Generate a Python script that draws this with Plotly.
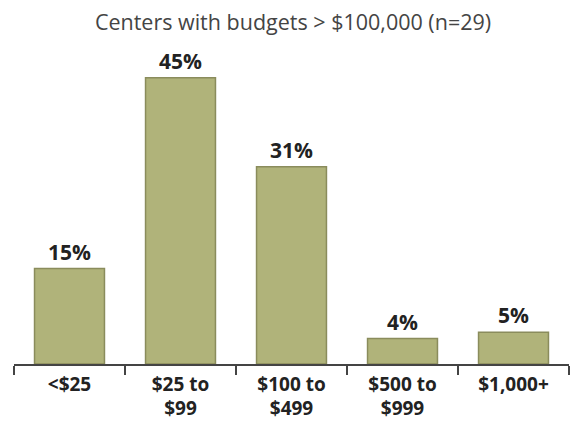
import plotly.graph_objects as go

categories = ["<$25", "$25 to<br>$99", "$100 to<br>$499", "$500 to<br>$999", "$1,000+"]
values = [15, 45, 31, 4, 5]
labels = [f"{v}%" for v in values]

BAR_COLOR = "#b0b37a"
EDGE_COLOR = "#8a8c5c"
FONT = "Open Sans"

# the page body keeps its default 8px margin, so the figure is 8px smaller
fig = go.Figure()
fig.add_trace(go.Bar(
    x=categories,
    y=values,
    text=labels,
    textposition="outside",
    cliponaxis=False,
    textfont=dict(size=21, color="#222222", family=FONT, weight="bold"),
    marker=dict(color=BAR_COLOR, line=dict(color=EDGE_COLOR, width=1.5)),
    width=0.63,
))

fig.update_layout(
    width=570,
    height=415,
    paper_bgcolor="white",
    plot_bgcolor="white",
    margin=dict(t=38, b=59, l=6, r=9),
    showlegend=False,
    title=dict(
        text="Centers with budgets > $100,000 (n=29)",
        x=0.5,
        xanchor="center",
        y=0.965,
        yanchor="middle",
        font=dict(size=21.5, color="#444444", family=FONT),
    ),
    font=dict(family=FONT, color="#222222"),
)
fig.update_xaxes(
    showline=True,
    linecolor="#444444",
    linewidth=1.5,
    ticks="outside",
    tickson="boundaries",
    ticklen=9,
    tickcolor="#444444",
    tickwidth=1.5,
    ticklabelstandoff=2,
    tickfont=dict(size=19, color="#222222", family=FONT, weight="bold"),
    showgrid=False,
    automargin=False,
)
fig.update_yaxes(visible=False, range=[0, 50], showgrid=False)

fig.write_html("out.html")
